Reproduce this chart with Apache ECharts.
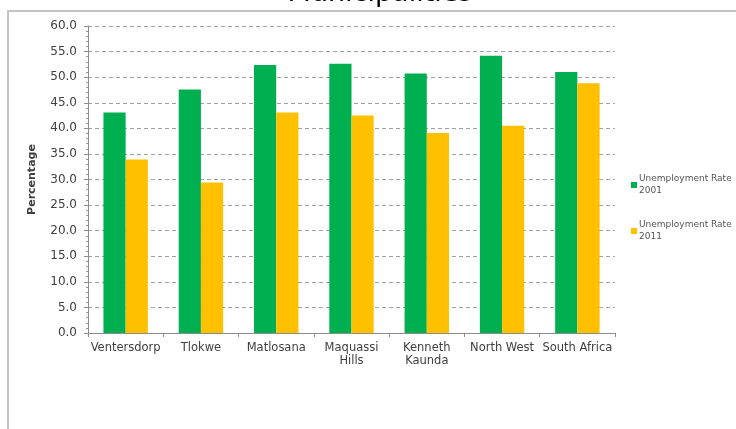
<!DOCTYPE html>
<html>
<head>
<meta charset="utf-8">
<style>
  html, body { margin: 0; padding: 0; background: #ffffff; }
  #chart { width: 736px; height: 429px; }
</style>
<script src="https://cdn.jsdelivr.net/npm/echarts@6/dist/echarts.min.js"></script>
</head>
<body>
<div id="chart"></div>
<script>
// Municipalities in the North West province, plus provincial and national totals
const categories = ['Ventersdorp', 'Tlokwe', 'Matlosana', 'Maquassi\nHills', 'Kenneth\nKaunda', 'North West', 'South Africa'];
const rate2001 = [43.1, 47.6, 52.4, 52.6, 50.7, 54.2, 51.0];
const rate2011 = [33.9, 29.4, 43.1, 42.5, 39.1, 40.5, 48.8];
const seriesNames = ['Unemployment Rate\n2001', 'Unemployment Rate\n2011'];
const yTicks = { min: 0, max: 60, step: 5 };

const chart = echarts.init(document.getElementById('chart'), null, { renderer: 'canvas' });

const labelFont = '"DejaVu Sans", Arial, sans-serif';

chart.setOption({
  animation: false,
  backgroundColor: '#ffffff',
  graphic: [
    {
      type: 'rect',
      x: 8, y: 11,
      shape: { x: 0, y: 0, width: 900, height: 600 },
      style: { fill: 'none', stroke: '#c4c4c4', lineWidth: 2 },
      silent: true
    },
    {
      type: 'text',
      x: 380, y: -6,
      style: {
        text: 'Municipalities',
        font: '27px ' + labelFont,
        fill: '#000000',
        align: 'center',
        verticalAlign: 'middle'
      },
      silent: true
    }
  ],
  legend: {
    orient: 'vertical',
    left: 626,
    top: 168,
    itemWidth: 6,
    itemHeight: 6,
    itemGap: 22,
    icon: 'rect',
    textStyle: { fontSize: 9, fontFamily: labelFont, color: '#555555', lineHeight: 12, padding: [0, 0, 0, -3] },
    data: seriesNames
  },
  grid: { left: 88, right: 121, top: 26, bottom: 96, containLabel: false },
  xAxis: {
    type: 'category',
    data: categories,
    axisLine: { lineStyle: { color: '#8c8c8c', width: 1 } },
    axisTick: { show: true, length: 4, lineStyle: { color: '#8c8c8c' } },
    axisLabel: {
      interval: 0,
      margin: 9,
      fontSize: 11.5,
      fontFamily: labelFont,
      color: '#404040',
      lineHeight: 13
    }
  },
  yAxis: {
    type: 'value',
    min: yTicks.min,
    max: yTicks.max,
    interval: yTicks.step,
    name: 'Percentage',
    nameLocation: 'middle',
    nameGap: 50,
    nameRotate: 90,
    nameTextStyle: { fontSize: 11, fontWeight: 'bold', fontFamily: labelFont, color: '#404040' },
    axisLine: { show: true, lineStyle: { color: '#8c8c8c', width: 1 } },
    axisTick: { show: true, length: 4, lineStyle: { color: '#8c8c8c' } },
    minorTick: { show: true, splitNumber: 5, length: 2, lineStyle: { color: '#9a9a9a' } },
    axisLabel: {
      fontSize: 12,
      fontFamily: labelFont,
      color: '#404040',
      margin: 11,
      formatter: v => v.toFixed(1)
    },
    splitLine: { show: true, lineStyle: { color: '#a0a0a0', type: [4, 3], width: 1 } }
  },
  series: [
    {
      name: seriesNames[0],
      type: 'bar',
      data: rate2001,
      barGap: '0%',
      barCategoryGap: '41%',
      itemStyle: { color: '#00B050' }
    },
    {
      name: seriesNames[1],
      type: 'bar',
      data: rate2011,
      itemStyle: { color: '#FFC000' }
    }
  ]
});
</script>
</body>
</html>
